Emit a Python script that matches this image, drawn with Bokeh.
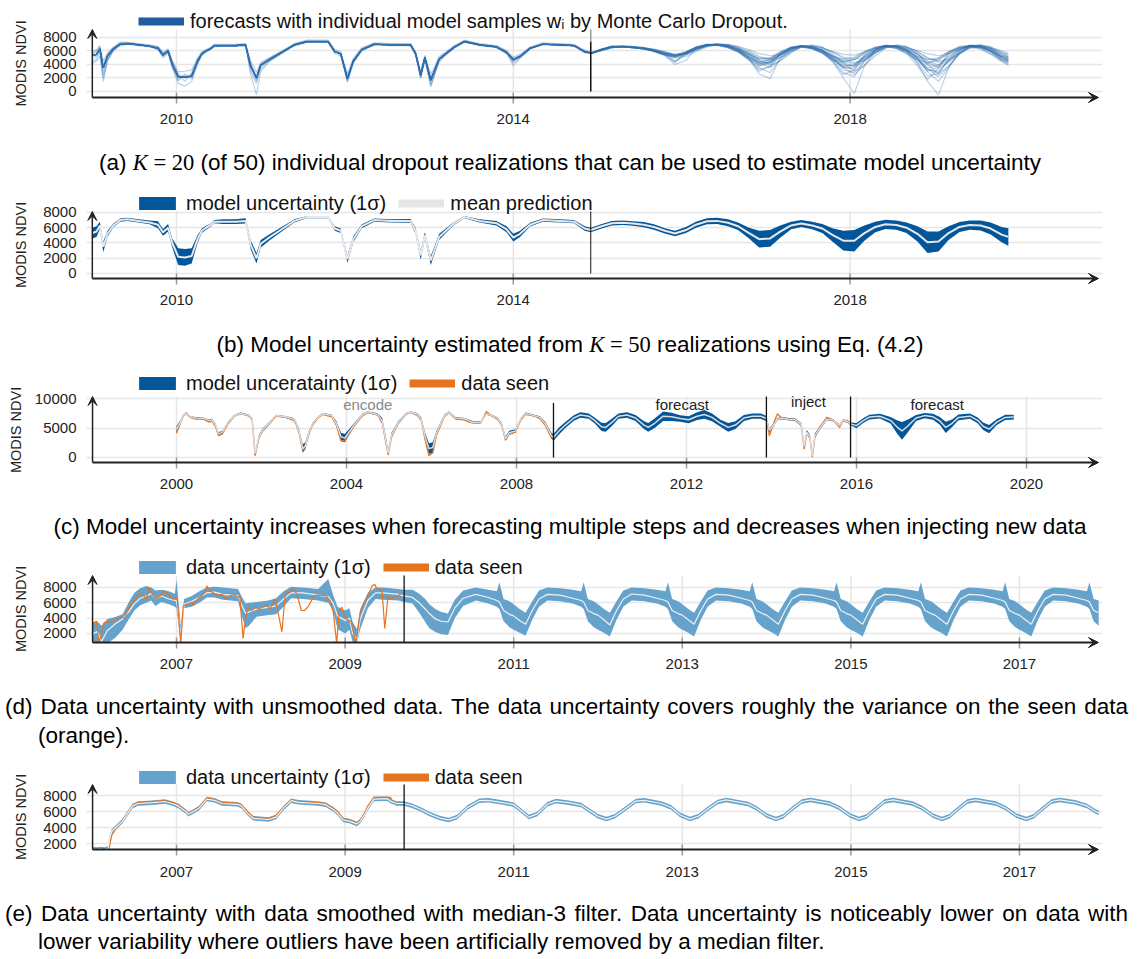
from bokeh.plotting import figure
from bokeh.models import Range1d, FixedTicker, Legend, LegendItem, Arrow, VeeHead, Div, Title
from bokeh.layouts import column
from bokeh.embed import file_html
from bokeh.resources import INLINE
from bokeh.core.properties import value

FONT = "Liberation Sans"
DARK = "#04569a"
LIGHT = "#65a3cd"
ORANGE = "#e8731f"

# ---------------- panel (a)/(b): encode period ----------------
t_b_enc = [2009.00, 2009.05, 2009.09, 2009.13, 2009.18, 2009.25, 2009.33, 2009.42, 2009.55, 2009.68,
           2009.78, 2009.84, 2009.90, 2009.95, 2010.02, 2010.10, 2010.18, 2010.25, 2010.30, 2010.35,
           2010.40, 2010.45, 2010.55, 2010.70, 2010.82, 2010.88, 2010.95, 2011.00, 2011.10, 2011.25,
           2011.40, 2011.55, 2011.80, 2011.88, 2011.95, 2012.03, 2012.10, 2012.20, 2012.35, 2012.55,
           2012.78, 2012.84, 2012.90, 2012.95, 2013.02, 2013.12, 2013.20, 2013.30, 2013.42, 2013.60,
           2013.80, 2013.92, 2014.00, 2014.08, 2014.20, 2014.35, 2014.55, 2014.72, 2014.85, 2014.92]
mean_b_enc = [5300, 5500, 6300, 3500, 5200, 6300, 7000, 7100, 6900, 6700,
              6400, 5400, 6000, 4000, 2200, 2100, 2300, 4500, 5600, 6000,
              6300, 6800, 6800, 6800, 6900, 3800, 2000, 3900, 4700, 5800,
              6900, 7400, 7400, 5900, 5600, 1900, 4500, 6200, 7000, 6900,
              6900, 5600, 2400, 5000, 1700, 4800, 5600, 6600, 7400, 6900,
              6600, 5800, 4700, 5200, 6400, 7000, 6900, 6800, 5900, 5700]
std_b_enc = [700, 700, 500, 700, 400, 250, 200, 200, 200, 250,
             450, 450, 500, 600, 1100, 1100, 1000, 500, 300, 250,
             200, 200, 300, 300, 350, 600, 700, 500, 400, 300,
             200, 150, 150, 300, 300, 500, 400, 250, 200, 200,
             250, 400, 600, 400, 600, 400, 300, 200, 150, 200,
             300, 400, 500, 400, 250, 200, 200, 200, 300, 300]

# forecast period (a)/(b)
t_fc = [2014.92, 2015.05, 2015.17, 2015.30, 2015.42, 2015.55, 2015.67, 2015.80, 2015.92, 2016.05,
        2016.17, 2016.30, 2016.42, 2016.55, 2016.67, 2016.80, 2016.92, 2017.05, 2017.17, 2017.30,
        2017.42, 2017.55, 2017.67, 2017.80, 2017.92, 2018.05, 2018.17, 2018.30, 2018.42, 2018.55,
        2018.67, 2018.80, 2018.92, 2019.05, 2019.17, 2019.30, 2019.42, 2019.55, 2019.67, 2019.80,
        2019.88]
mean_b_fc = [5650, 6200, 6600, 6650, 6550, 6400, 6100, 5600, 5250, 5700,
             6400, 6850, 6900, 6650, 6200, 5300, 4500, 4600, 5500, 6300,
             6550, 6300, 5900, 5000, 4300, 4300, 5300, 6100, 6450, 6350,
             6000, 5200, 4100, 4200, 5300, 6100, 6350, 6300, 5900, 5100,
             4800]
std_b_fc = [300, 300, 300, 300, 300, 350, 350, 350, 350, 400,
            400, 400, 400, 450, 500, 700, 1100, 1100, 800, 500,
            450, 500, 600, 900, 1300, 1400, 1000, 700, 600, 600,
            700, 1000, 1400, 1300, 900, 650, 600, 650, 800, 1000,
            1150]

# (a) individual dropout samples: encode-period variants
enc_v1 = [5000, 5200, 6000, 2000, 4800, 6100, 6900, 7000, 6800, 6600,
          6200, 5000, 5700, 3500, 1200, 800, 1500, 4000, 5400, 5900,
          6200, 6700, 6700, 6700, 6800, 3000, 1200, 3400, 4500, 5600,
          6800, 7300, 7300, 5600, 5300, 1400, 4200, 6000, 6900, 6800,
          6800, 5300, 1900, 4600, 900, 4400, 5400, 6400, 7300, 6800,
          6500, 5600, 4200, 5000, 6300, 6900, 6800, 6700, 5700, 5600]
enc_v2 = [5800, 6000, 6600, 4500, 5700, 6600, 7300, 7300, 7100, 6900,
          6700, 5800, 6300, 4600, 2900, 3000, 3200, 5000, 5900, 6200,
          6500, 7000, 7000, 7000, 7100, 4500, 2800, 4300, 5000, 6000,
          7100, 7600, 7600, 6200, 5900, 2600, 4900, 6500, 7200, 7100,
          7100, 5900, 3000, 5400, 2500, 5200, 5900, 6800, 7600, 7100,
          6800, 6100, 5100, 5500, 6600, 7200, 7100, 7000, 6100, 5900]
enc_v3 = [4500, 4800, 5800, 1500, 4500, 6200, 7100, 7200, 7000, 6800,
          6500, 5600, 6100, 3800, 1800, 2600, 2000, 4300, 5500, 6100,
          6400, 6900, 6900, 6900, 7000, 2500, -500, 3000, 4400, 5700,
          7000, 7500, 7500, 6000, 5500, 1500, 4300, 6300, 7100, 7000,
          7000, 5500, 2000, 4800, 700, 4600, 5500, 6500, 7500, 7000,
          6700, 5900, 4400, 5100, 6400, 7100, 7000, 6900, 5800, 5800]
enc_v4 = [6000, 6200, 6800, 3000, 5500, 6400, 7000, 7100, 6900, 6700,
          6300, 5200, 5800, 4300, 2500, 1500, 2800, 4800, 5700, 6000,
          6300, 6800, 6800, 6800, 6900, 4200, 1800, 4100, 4900, 5900,
          6900, 7400, 7400, 5800, 5700, 2300, 4700, 6200, 7000, 6900,
          6900, 5700, 2800, 5200, 1600, 5000, 5700, 6600, 7400, 6900,
          6600, 5800, 4900, 5300, 6400, 7000, 6900, 6800, 5900, 5600]
enc_v5 = [4200, 4500, 5200, 2500, 4600, 6000, 6800, 7000, 6900, 6700,
          6500, 5700, 5900, 3600, 1600, 2400, 1900, 4200, 5300, 5800,
          6200, 6600, 6700, 6700, 6800, 3400, 1500, 3700, 4600, 5700,
          6800, 7300, 7400, 6000, 5400, 1700, 4400, 6100, 6900, 6900,
          6800, 5500, 2200, 4900, 1200, 4700, 5600, 6500, 7300, 6900,
          6500, 5700, 3800, 4900, 6300, 7000, 6900, 6800, 5800, 5700]
enc_v6 = [5500, 5900, 6400, 4000, 5400, 6500, 7200, 7200, 7000, 6800,
          6600, 5500, 6200, 4400, 2600, 2000, 2500, 4600, 5700, 6100,
          6400, 6900, 6900, 6900, 7000, 3900, 2300, 4000, 4800, 5900,
          7000, 7500, 7500, 5900, 5700, 2100, 4600, 6200, 7100, 7000,
          6900, 5700, 2600, 5100, 2000, 4900, 5700, 6700, 7500, 7000,
          6700, 5900, 4600, 5300, 6500, 7100, 7000, 6800, 6000, 5700]

# (a) forecast part of the K = 20 samples
fc_s01 = [5700, 6300, 6700, 6700, 6600, 6400, 6000, 5400, 5000, 5600,
          6500, 7000, 7000, 6700, 6100, 5000, 3800, 4200, 5400, 6400,
          6700, 6500, 6000, 4800, 3500, 3600, 5200, 6300, 6700, 6600,
          6100, 4800, 3000, 3600, 5500, 6500, 6700, 6500, 5800, 4600,
          4200]
fc_s02 = [5600, 6100, 6500, 6600, 6600, 6500, 6200, 5800, 5500, 5600,
          6100, 6700, 7000, 6900, 6600, 6000, 5200, 4700, 5000, 5900,
          6600, 6800, 6500, 5800, 4900, 4300, 4600, 5700, 6500, 6800,
          6600, 5900, 5000, 4300, 4600, 5600, 6400, 6600, 6400, 5700,
          5200]
fc_s03 = [5700, 6200, 6600, 6600, 6500, 6300, 6000, 5500, 4300, 5900,
          6600, 7000, 6900, 6500, 5800, 4600, 3000, 3800, 5600, 6600,
          6800, 6400, 5800, 4400, 2500, 3200, 5400, 6500, 6800, 6400,
          5600, 3800, 1800, 3400, 5800, 6700, 6800, 6300, 5500, 4400,
          3900]
fc_s04 = [5600, 6200, 6600, 6700, 6600, 6400, 6200, 5700, 5400, 5500,
          6200, 6800, 7100, 7000, 6700, 6200, 5600, 5300, 5500, 6200,
          6700, 6700, 6400, 5900, 5500, 5400, 5800, 6400, 6800, 6800,
          6500, 6100, 5600, 5300, 5600, 6300, 6800, 6800, 6500, 6000,
          5700]
fc_s05 = [5700, 6300, 6700, 6700, 6500, 6300, 5900, 5300, 4000, 4600,
          6300, 6800, 6800, 6500, 5900, 4800, 3500, 2800, 4800, 6200,
          6800, 6600, 6000, 4500, 2800, 2200, 4500, 6200, 6900, 6700,
          6000, 4200, 1500, -500, 3500, 6000, 6900, 6700, 6000, 4800,
          4300]
fc_s06 = [5650, 6200, 6600, 6650, 6550, 6450, 6200, 5800, 5400, 5800,
          6500, 6900, 6900, 6700, 6300, 5600, 4900, 4900, 5700, 6500,
          6700, 6500, 6100, 5300, 4600, 4700, 5600, 6400, 6700, 6600,
          6200, 5500, 4700, 4800, 5600, 6400, 6700, 6600, 6200, 5400,
          5100]
fc_s07 = [5700, 6100, 6500, 6600, 6500, 6300, 6000, 5500, 5000, 5200,
          5900, 6600, 7000, 6900, 6500, 5700, 4600, 3900, 4500, 5700,
          6600, 6900, 6600, 5500, 4200, 3000, 3800, 5300, 6400, 6900,
          6700, 5600, 4000, 2600, 3800, 5500, 6600, 6900, 6600, 5600,
          5000]
fc_s08 = [5600, 6200, 6700, 6800, 6700, 6500, 6100, 5600, 5300, 5800,
          6500, 6900, 7000, 6800, 6300, 5200, 4100, 4400, 5600, 6500,
          6800, 6600, 6000, 4900, 3800, 3900, 5100, 6200, 6700, 6600,
          6100, 4900, 3300, 2700, 4800, 6200, 6800, 6700, 6100, 5000,
          4500]
fc_s09 = [5650, 6200, 6600, 6700, 6600, 6400, 6000, 5500, 5200, 5600,
          6300, 6800, 6900, 6600, 6000, 4900, 4000, 4500, 5600, 6400,
          6600, 6300, 5700, 4600, 3700, 4000, 5300, 6200, 6600, 6400,
          5800, 4700, 3500, 3800, 5200, 6200, 6600, 6500, 6000, 5000,
          4700]
fc_s10 = [5700, 6300, 6600, 6600, 6500, 6300, 6100, 5700, 5400, 5900,
          6600, 7000, 7000, 6800, 6400, 5500, 4700, 4600, 5300, 6200,
          6600, 6500, 6100, 5200, 4500, 4100, 4800, 5900, 6600, 6700,
          6400, 5600, 4500, 3900, 4500, 5700, 6500, 6700, 6400, 5700,
          5400]
fc_s11 = [5600, 6100, 6500, 6600, 6500, 6400, 6100, 5700, 4500, 5500,
          6200, 6800, 7000, 6800, 6200, 5000, 2600, 1900, 5000, 6300,
          6800, 6700, 6100, 4800, 3200, 2800, 4500, 6000, 6800, 6800,
          6200, 4900, 2900, 1500, 3500, 5800, 6800, 6900, 6400, 5200,
          4600]
fc_s12 = [5650, 6250, 6650, 6700, 6600, 6400, 6000, 5500, 5200, 5800,
          6500, 6900, 6900, 6600, 6000, 5100, 4300, 4700, 5700, 6500,
          6700, 6400, 5800, 5000, 4400, 4700, 5700, 6500, 6800, 6600,
          6000, 5100, 4200, 4600, 5700, 6500, 6800, 6600, 6000, 5100,
          4800]
fc_s13 = [5700, 6200, 6600, 6600, 6500, 6300, 5900, 5400, 5100, 5700,
          6500, 6900, 6900, 6500, 5900, 4800, 3800, 4300, 5500, 6400,
          6700, 6400, 5800, 4700, 3600, 3300, 4700, 6000, 6700, 6600,
          5900, 4600, 3200, 3000, 4500, 6000, 6700, 6600, 6000, 4800,
          4400]
fc_s14 = [5600, 6100, 6500, 6600, 6600, 6500, 6300, 5900, 5500, 5700,
          6300, 6800, 7000, 6900, 6500, 5800, 5000, 4900, 5400, 6100,
          6600, 6700, 6500, 5800, 5100, 4800, 5000, 5800, 6500, 6800,
          6600, 5900, 5000, 4500, 4800, 5700, 6500, 6800, 6600, 5900,
          5500]
fc_s15 = [5700, 6300, 6700, 6700, 6600, 6400, 6000, 5400, 4400, 5500,
          6400, 6900, 7000, 6700, 6000, 4700, 3300, 3600, 5300, 6400,
          6800, 6500, 5800, 4300, 2000, -300, 3800, 6200, 6800, 6600,
          5900, 4300, 2300, 2600, 4700, 6200, 6800, 6600, 5900, 4600,
          4000]
fc_s16 = [5650, 6200, 6600, 6600, 6500, 6300, 6000, 5600, 5300, 5700,
          6400, 6800, 6900, 6700, 6200, 5400, 4500, 4200, 5000, 6000,
          6600, 6600, 6200, 5300, 4300, 3700, 4600, 5800, 6600, 6700,
          6400, 5500, 4300, 3500, 4300, 5700, 6600, 6700, 6300, 5400,
          5000]
fc_s17 = [5700, 6200, 6700, 6700, 6600, 6400, 6100, 5600, 5200, 5600,
          6400, 6900, 7000, 6700, 6100, 5100, 4200, 4300, 5400, 6400,
          6800, 6600, 6100, 5100, 4000, 3800, 5000, 6200, 6800, 6700,
          6200, 5200, 3900, 3900, 5100, 6300, 6800, 6700, 6200, 5200,
          4800]
fc_s18 = [5600, 6100, 6500, 6600, 6500, 6300, 6000, 5500, 5200, 5500,
          6200, 6700, 6900, 6700, 6100, 5100, 4400, 4800, 5800, 6500,
          6600, 6300, 5600, 4700, 4300, 4900, 5900, 6500, 6700, 6400,
          5600, 4700, 4200, 4900, 5900, 6500, 6600, 6300, 5600, 4700,
          4500]
fc_s19 = [5650, 6200, 6600, 6650, 6550, 6400, 6100, 5700, 5300, 5700,
          6400, 6900, 7000, 6800, 6300, 5400, 4200, 3600, 4600, 5900,
          6700, 6700, 6200, 5000, 3600, 2500, 3900, 5700, 6700, 6800,
          6300, 5000, 3400, 2200, 3700, 5600, 6700, 6800, 6300, 5100,
          4600]
fc_s20 = [5700, 6300, 6600, 6600, 6500, 6400, 6200, 5800, 5400, 5800,
          6500, 6900, 6900, 6700, 6300, 5500, 4800, 5000, 5900, 6600,
          6700, 6400, 5900, 5200, 4800, 5100, 5900, 6600, 6800, 6500,
          6000, 5200, 4700, 5000, 5900, 6600, 6800, 6500, 6000, 5200,
          5000]
split_ab = [2014.92]

# ---------------- panel (c) ----------------
t_c_enc = [2000.00, 2000.09, 2000.16, 2000.23, 2000.32, 2000.45, 2000.63, 2000.77, 2000.83, 2000.92,
           2000.99, 2001.08, 2001.22, 2001.35, 2001.51, 2001.71, 2001.78, 2001.85, 2001.94, 2002.03,
           2002.16, 2002.34, 2002.57, 2002.75, 2002.81, 2002.88, 2002.97, 2003.03, 2003.11, 2003.20,
           2003.33, 2003.44, 2003.65, 2003.76, 2003.87, 2003.96, 2004.05, 2004.19, 2004.37, 2004.50,
           2004.73, 2004.84, 2004.91, 2004.98, 2005.06, 2005.22, 2005.40, 2005.51, 2005.67, 2005.76,
           2005.85, 2005.94, 2006.03, 2006.12, 2006.30, 2006.41, 2006.57, 2006.75, 2006.89, 2007.02,
           2007.16, 2007.29, 2007.43, 2007.56, 2007.65, 2007.74, 2007.83, 2007.97, 2008.10, 2008.21,
           2008.42, 2008.55, 2008.68, 2008.82, 2008.87]
m_c_enc = [4800, 6000, 7100, 7450, 6900, 6700, 6650, 6250, 6400, 5500,
           4000, 4300, 6000, 7000, 7500, 7100, 6500, 700, 3500, 4700,
           5700, 7100, 6900, 6500, 5900, 4500, 1500, 2000, 4200, 5700,
           6850, 7400, 7100, 5800, 3500, 3300, 4200, 5600, 7200, 7700,
           7300, 6200, 3500, 800, 3800, 6000, 7400, 7700, 7300, 6500,
           3500, 1500, 1700, 4200, 7100, 7700, 6700, 6600, 6200, 5900,
           6000, 7400, 7100, 6600, 5700, 3200, 4200, 4500, 6500, 7500,
           7100, 6800, 5700, 3700, 3400]
s_c_enc = [500, 300, 200, 150, 150, 150, 150, 200, 200, 250,
           300, 250, 200, 150, 150, 150, 200, 400, 350, 250,
           200, 150, 150, 200, 250, 400, 700, 600, 300, 200,
           150, 150, 200, 400, 700, 700, 500, 300, 200, 150,
           200, 500, 600, 500, 400, 250, 150, 150, 200, 300,
           700, 900, 900, 400, 200, 150, 150, 150, 200, 200,
           200, 150, 150, 200, 250, 400, 350, 300, 200, 150,
           150, 200, 300, 500, 600]
seen_c_enc = [4100, 5800, 7000, 7600, 6800, 6500, 6500, 6000, 6200, 5200,
              3700, 4000, 5800, 6900, 7500, 7000, 6300, 300, 3300, 4500,
              5500, 7000, 6800, 6300, 5700, 4200, 1200, 1800, 3900, 5500,
              6700, 7300, 6900, 5500, 2800, 2900, 4000, 5400, 7000, 7600,
              7200, 5900, 3200, 500, 3500, 5800, 7300, 7700, 7100, 6300,
              3000, 300, 800, 3800, 6900, 7600, 6500, 6400, 6000, 5800,
              5900, 7800, 7000, 6400, 5500, 3000, 4000, 4300, 6300, 7300,
              7000, 6600, 5400, 3300, 3000]
t_c_f1 = [2009.00, 2009.15, 2009.35, 2009.50, 2009.70, 2009.85, 2010.00, 2010.10, 2010.25, 2010.40,
          2010.60, 2010.80, 2011.00, 2011.10, 2011.25, 2011.45, 2011.65, 2011.85, 2012.05, 2012.25,
          2012.42, 2012.60, 2012.80, 2012.98, 2013.15, 2013.35, 2013.55, 2013.75, 2013.88]
m_c_f1 = [4500, 5500, 6700, 7200, 7000, 6200, 5200, 5100, 6000, 7000,
          7200, 6700, 5500, 5100, 5800, 7000, 6900, 6600, 6400, 7000,
          7300, 6800, 5800, 5100, 5500, 6700, 7000, 7000, 6600]
s_c_f1 = [600, 500, 450, 450, 450, 500, 700, 750, 600, 450,
          450, 500, 650, 750, 800, 800, 700, 550, 600, 650,
          750, 650, 600, 750, 650, 500, 450, 450, 450]
t_c_inj = [2013.95, 2014.05, 2014.14, 2014.25, 2014.40, 2014.55, 2014.70, 2014.77, 2014.83, 2014.90,
           2014.96, 2015.02, 2015.12, 2015.30, 2015.45, 2015.60, 2015.68, 2015.78, 2015.86]
m_c_inj = [4600, 5500, 6500, 6700, 6500, 6400, 5600, 1900, 4300, 3500,
           300, 3700, 4800, 6500, 6300, 5400, 6300, 6100, 5700]
s_c_inj = [300, 250, 200, 200, 200, 200, 250, 400, 350, 400,
           400, 400, 300, 200, 200, 250, 200, 200, 250]
t_c_seen2 = [2013.88, 2013.95, 2014.05, 2014.14, 2014.25, 2014.40, 2014.55, 2014.70, 2014.77, 2014.83,
             2014.90, 2014.96, 2015.02, 2015.12, 2015.30, 2015.45, 2015.60, 2015.68, 2015.78, 2015.86]
seen_c_inj = [6400, 3700, 5800, 7400, 6600, 6400, 6600, 5400, 1400, 4000,
              3600, 100, 3400, 5000, 6800, 6400, 5100, 6200, 6300, 5800]
t_c_f2 = [2016.00, 2016.15, 2016.30, 2016.55, 2016.80, 2016.95, 2017.07, 2017.20, 2017.40, 2017.60,
          2017.80, 2017.96, 2018.10, 2018.25, 2018.40, 2018.67, 2018.85, 2018.98, 2019.12, 2019.30,
          2019.50, 2019.70]
m_c_f2 = [5400, 6200, 6850, 7000, 6300, 5200, 4500, 5300, 6700, 7100,
          6900, 6200, 5100, 5800, 6800, 7000, 6300, 5300, 4800, 6000,
          6800, 6850]
s_c_f2 = [450, 400, 400, 400, 550, 1100, 1500, 1100, 500, 450,
          500, 650, 950, 650, 500, 450, 500, 650, 700, 500,
          450, 400]
split_c = [2008.87, 2013.88, 2015.86]
phase_labels_c = ["encode", "forecast", "inject", "forecast"]
phase_x_c = [2004.5, 2011.9, 2014.87, 2017.9]

# ---------------- panel (d) ----------------
t_d_enc = [2006.00, 2006.06, 2006.11, 2006.18, 2006.28, 2006.36, 2006.43, 2006.50, 2006.57, 2006.64,
           2006.70, 2006.75, 2006.82, 2006.91, 2006.98, 2007.00, 2007.05, 2007.09, 2007.18, 2007.27,
           2007.36, 2007.45, 2007.55, 2007.73, 2007.77, 2007.82, 2007.86, 2007.95, 2008.09, 2008.18,
           2008.27, 2008.36, 2008.50, 2008.68, 2008.80, 2008.86, 2008.91, 2009.00, 2009.05, 2009.09,
           2009.14, 2009.18, 2009.27, 2009.36, 2009.45, 2009.63, 2009.70]
m_d_enc = [1900, 2300, 950, 2400, 3300, 3900, 4800, 5900, 6600, 6900,
           7200, 6500, 6900, 6500, 6300, 6300, 1900, 5800, 6200, 6700,
           7300, 7400, 7100, 6900, 5800, 4600, 4800, 5200, 5400, 5600,
           6500, 7300, 7300, 7000, 6800, 5900, 4300, 3700, 4000, 2000,
           1200, 3900, 6300, 7300, 7300, 7100, 6900]
lo_d_enc = [700, 800, 700, 700, 1500, 2500, 3800, 5000, 5700, 6000,
            6300, 5600, 6100, 5800, 5500, 5300, 900, 5300, 5500, 6000,
            6700, 6700, 6400, 6200, 4500, 2700, 3000, 4200, 4400, 4500,
            5500, 6600, 6500, 6300, 6000, 4900, 2600, 2000, 2500, 900,
            900, 2600, 5300, 6500, 6400, 6300, 6100]
hi_d_enc = [3300, 3600, 3000, 3900, 4200, 4500, 6000, 7300, 7900, 8200,
            8000, 7600, 7700, 7500, 7200, 9000, 3000, 6500, 6900, 7500,
            8000, 8100, 8000, 7800, 6900, 5900, 6000, 6100, 6300, 6600,
            7500, 8100, 8000, 7800, 9100, 7000, 5500, 5000, 5300, 3500,
            2600, 5200, 7300, 8000, 8000, 7800, 7700]
t_d_fc = [2009.80, 2009.88, 2009.95,
          2010.00, 2010.07, 2010.14, 2010.22, 2010.30, 2010.40, 2010.55, 2010.70, 2010.80, 2010.83, 2010.88, 2010.95,
          2011.00, 2011.07, 2011.14, 2011.22, 2011.30, 2011.40, 2011.55, 2011.70, 2011.80, 2011.83, 2011.88, 2011.95,
          2012.00, 2012.07, 2012.14, 2012.22, 2012.30, 2012.40, 2012.55, 2012.70, 2012.80, 2012.83, 2012.88, 2012.95,
          2013.00, 2013.07, 2013.14, 2013.22, 2013.30, 2013.40, 2013.55, 2013.70, 2013.80, 2013.83, 2013.88, 2013.95,
          2014.00, 2014.07, 2014.14, 2014.22, 2014.30, 2014.40, 2014.55, 2014.70, 2014.80, 2014.83, 2014.88, 2014.95,
          2015.00, 2015.07, 2015.14, 2015.22, 2015.30, 2015.40, 2015.55, 2015.70, 2015.80, 2015.83, 2015.88, 2015.95,
          2016.00, 2016.07, 2016.14, 2016.22, 2016.30, 2016.40, 2016.55, 2016.70, 2016.80, 2016.83, 2016.88, 2016.95,
          2017.00, 2017.07, 2017.14, 2017.22, 2017.30, 2017.40, 2017.55, 2017.70, 2017.80, 2017.83, 2017.88, 2017.94]
m_d_fc = [6700, 6000, 5200,
          4600, 3900, 3600, 3500, 5300, 6600, 7100, 6700, 6300, 6100, 5000, 4500,
          4300, 3700, 3200, 5000, 6500, 7100, 7000, 6600, 6300, 6100, 5000, 4600,
          4400, 3800, 3100, 5000, 6500, 7150, 7000, 6600, 6300, 6100, 5000, 4600,
          4400, 3800, 3200, 5000, 6500, 7100, 7000, 6600, 6300, 6100, 5000, 4600,
          4400, 3800, 3200, 5000, 6500, 7100, 7000, 6600, 6300, 6100, 5000, 4600,
          4400, 3800, 3200, 5000, 6500, 7100, 7000, 6600, 6300, 6100, 5000, 4600,
          4400, 3800, 3200, 5000, 6500, 7100, 7000, 6600, 6300, 6100, 5000, 4600,
          4400, 3800, 3200, 5000, 6500, 7100, 7000, 6600, 6300, 6100, 5000, 4700]
lo_d_fc = [5900, 4700, 3500,
           2700, 2200, 1900, 1800, 4000, 5600, 6300, 5900, 5500, 5200, 3600, 2800,
           2500, 2100, 1700, 3800, 5500, 6300, 6200, 5900, 5500, 5200, 3600, 2800,
           2500, 2100, 1600, 3800, 5500, 6300, 6200, 5900, 5500, 5200, 3600, 2800,
           2500, 2100, 1600, 3800, 5500, 6300, 6200, 5900, 5500, 5200, 3600, 2800,
           2500, 2100, 1600, 3800, 5500, 6300, 6200, 5900, 5500, 5200, 3600, 2800,
           2500, 2100, 1600, 3800, 5500, 6300, 6200, 5900, 5500, 5200, 3600, 2800,
           2500, 2100, 1600, 3800, 5500, 6300, 6200, 5900, 5500, 5200, 3600, 2800,
           2500, 2100, 1600, 3800, 5500, 6300, 6200, 5900, 5500, 5200, 3600, 3000]
hi_d_fc = [7700, 7200, 6500,
           5800, 5200, 4800, 4600, 6400, 7600, 8000, 7700, 7500, 8700, 6500, 6200,
           5800, 5200, 4700, 6200, 7600, 8000, 7900, 7700, 7500, 8700, 6500, 6200,
           5800, 5200, 4700, 6200, 7600, 8000, 7900, 7700, 7500, 8700, 6500, 6200,
           5800, 5200, 4700, 6200, 7600, 8000, 7900, 7700, 7500, 8700, 6500, 6200,
           5800, 5200, 4700, 6200, 7600, 8000, 7900, 7700, 7500, 8700, 6500, 6200,
           5800, 5200, 4700, 6200, 7600, 8000, 7900, 7700, 7500, 8700, 6500, 6200,
           5800, 5200, 4700, 6200, 7600, 8000, 7900, 7700, 7500, 8700, 6500, 6200,
           5800, 5200, 4700, 6200, 7600, 8000, 7900, 7700, 7500, 8700, 6500, 6300]
t_d_seen = [2006.00, 2006.05, 2006.08, 2006.14, 2006.21, 2006.27, 2006.34, 2006.39, 2006.41, 2006.46,
            2006.50, 2006.54, 2006.57, 2006.61, 2006.64, 2006.67, 2006.70, 2006.75, 2006.81, 2006.85,
            2006.91, 2006.95, 2006.99, 2007.01, 2007.05, 2007.08, 2007.14, 2007.18, 2007.20, 2007.25,
            2007.30, 2007.34, 2007.36, 2007.39, 2007.43, 2007.48, 2007.54, 2007.59, 2007.64, 2007.68,
            2007.73, 2007.75, 2007.79, 2007.82, 2007.85, 2007.89, 2007.93, 2007.98, 2008.02, 2008.07,
            2008.11, 2008.14, 2008.17, 2008.20, 2008.25, 2008.29, 2008.34, 2008.38, 2008.43, 2008.48,
            2008.52, 2008.57, 2008.63, 2008.70, 2008.77, 2008.82, 2008.86, 2008.90, 2008.93, 2008.96,
            2008.99, 2009.02, 2009.07, 2009.13, 2009.18, 2009.22, 2009.27, 2009.32, 2009.35, 2009.38,
            2009.41, 2009.44, 2009.47, 2009.51, 2009.54, 2009.59, 2009.63, 2009.66]
v_d_seen = [3290, 3590, 700, 3420, 3510, 3720, 4150, 4020, 4790, 5860,
            6290, 6930, 7140, 6930, 6500, 8000, 7360, 6500, 6930, 7570,
            7140, 6500, 6720, 6290, 700, 5650, 5860, 6070, 5650, 6500,
            6930, 7360, 8210, 7570, 7360, 6930, 7140, 6500, 6930, 7020,
            6720, 6930, 1370, 4150, 5430, 5000, 5430, 5220, 5430, 5650,
            5220, 5860, 6500, 5000, 2220, 7140, 7360, 7790, 7140, 5000,
            5000, 5650, 6930, 7020, 6930, 6290, 4790, 700, 5000, 5430,
            4360, 3930, 3510, 700, 4790, 5860, 6930, 8210, 8430, 7790,
            7790, 7360, 2650, 6930, 6500, 6720, 6930, 7140]
split_de = [2009.70]

# ---------------- panel (e) ----------------
t_e_enc = [2006.00, 2006.05, 2006.10, 2006.15, 2006.19, 2006.20, 2006.23, 2006.29, 2006.36, 2006.41,
           2006.48, 2006.54, 2006.72, 2006.86, 2006.95, 2007.02, 2007.11, 2007.14, 2007.20, 2007.27,
           2007.36, 2007.45, 2007.54, 2007.72, 2007.77, 2007.84, 2007.91, 2008.09, 2008.18, 2008.27,
           2008.36, 2008.45, 2008.68, 2008.77, 2008.86, 2008.91, 2008.98, 2009.05, 2009.14, 2009.18,
           2009.23, 2009.27, 2009.34, 2009.50, 2009.54, 2009.61]
m_e_enc = [1300, 1250, 1300, 1250, 1400, 2500, 3500, 4100, 4800, 5600,
           6700, 7000, 7100, 7250, 7000, 6700, 6000, 5650, 6000, 6450,
           7550, 7400, 7000, 6900, 6700, 5800, 5150, 5000, 5300, 6450,
           7350, 7150, 7000, 6850, 6250, 5800, 4950, 4800, 4450, 4800,
           5600, 6450, 7550, 7600, 7300, 7000]
t_e_fc = [2009.70, 2009.80, 2009.90, 2010.00, 2010.13, 2010.23, 2010.33, 2010.45, 2010.59, 2010.70,
          2010.85, 2011.00, 2011.10, 2011.18, 2011.28, 2011.40, 2011.50, 2011.65, 2011.80, 2011.90,
          2012.00, 2012.10, 2012.20, 2012.32, 2012.45, 2012.55, 2012.75, 2012.87, 2012.97, 2013.09,
          2013.19, 2013.30, 2013.42, 2013.52, 2013.78, 2013.88, 2014.00, 2014.11, 2014.20, 2014.30,
          2014.42, 2014.52, 2014.75, 2014.87, 2014.99, 2015.10, 2015.19, 2015.29, 2015.40, 2015.50,
          2015.73, 2015.85, 2015.97, 2016.08, 2016.17, 2016.27, 2016.38, 2016.48, 2016.72, 2016.84,
          2016.96, 2017.08, 2017.17, 2017.27, 2017.38, 2017.48, 2017.66, 2017.80, 2017.89, 2017.94]
m_e_fc = [7000, 6700, 6250, 5700, 5150, 4950, 5300, 6500, 7350, 7400,
          7150, 6850, 6000, 5300, 5700, 6900, 7300, 7100, 6800, 6100,
          5400, 5050, 5400, 6300, 7300, 7400, 7000, 6500, 5600, 5050,
          5400, 6300, 7200, 7450, 6950, 6400, 5500, 5050, 5400, 6300,
          7250, 7450, 7000, 6400, 5500, 5050, 5400, 6300, 7250, 7450,
          7000, 6400, 5500, 5050, 5400, 6300, 7250, 7450, 7000, 6400,
          5500, 5050, 5400, 6300, 7250, 7450, 7150, 6700, 6100, 5800]
band_e_halfwidth = 280
t_e_seen = [2006.19, 2006.23, 2006.29, 2006.36, 2006.41, 2006.48, 2006.54, 2006.72, 2006.86, 2006.95,
            2007.02, 2007.11, 2007.14, 2007.20, 2007.27, 2007.36, 2007.45, 2007.54, 2007.72, 2007.77,
            2007.84, 2007.91, 2008.09, 2008.18, 2008.27, 2008.36, 2008.45, 2008.68, 2008.77, 2008.86,
            2008.91, 2008.98, 2009.05, 2009.14, 2009.18, 2009.23, 2009.27, 2009.34, 2009.50, 2009.54,
            2009.56, 2009.61, 2009.66]
v_e_seen = [900, 3000, 4000, 4900, 5700, 6800, 7100, 7250, 7350, 7150,
            6900, 6100, 5750, 6100, 6600, 7650, 7500, 7150, 7050, 6850,
            6000, 5300, 5150, 5500, 6550, 7400, 7200, 7100, 7000, 6450,
            6000, 5100, 4950, 4600, 4950, 5800, 6700, 7750, 7750, 7750,
            7100, 7050, 7000]

# ---------------- tick labels ----------------
xticks_ab = [2010, 2014, 2018]
xticks_c = [2000, 2004, 2008, 2012, 2016, 2020]
xticks_de = [2007, 2009, 2011, 2013, 2015, 2017]
yticks_ab = [0, 2000, 4000, 6000, 8000]
yticks_c = [0, 5000, 10000]
yticks_de = [2000, 4000, 6000, 8000]

FRAME_W = 1016
GRID = "#e6e6e6"


def trim(x, y):
    n = min(len(x), len(y))
    return list(x[:n]), list(y[:n])


def make_fig(xr, yr, fh, top, xt, yt, x_standoff, ax_y, tip_y, t_off, t_stand):
    p = figure(x_range=Range1d(*xr), y_range=Range1d(*yr),
               frame_width=FRAME_W, frame_height=fh,
               min_border_left=86, min_border_right=20, min_border_top=top, min_border_bottom=32,
               output_backend="svg", toolbar_location=None, title=None)
    p.outline_line_color = None
    p.background_fill_color = "white"
    p.border_fill_color = "white"
    p.xaxis.ticker = FixedTicker(ticks=xt)
    p.yaxis.ticker = FixedTicker(ticks=yt)
    p.xgrid.grid_line_color = None
    p.ygrid.ticker = FixedTicker(ticks=yt)
    p.ygrid.grid_line_color = GRID
    p.ygrid.grid_line_width = 1.5
    for ax in (p.xaxis[0], p.yaxis[0]):
        ax.axis_line_color = None
        ax.major_tick_line_color = None
        ax.minor_tick_line_color = None
        ax.major_tick_in = 0
        ax.major_tick_out = 0
        ax.major_label_text_font = FONT
        ax.major_label_text_font_size = "15px"
        ax.major_label_text_color = "#222222"
    p.xaxis[0].major_label_standoff = x_standoff
    p.yaxis[0].major_label_standoff = 10
    p.add_layout(Title(text="MODIS NDVI", align="left", vertical_align="top", offset=t_off, standoff=t_stand,
                       text_font=FONT, text_font_size="14.5px", text_font_style="normal",
                       text_color="#222222"), "left")
    # vertical grid lines from the x axis up to the arrow tip
    p.segment(x0=xt, y0=[ax_y] * len(xt), x1=xt, y1=[tip_y] * len(xt), line_color=GRID, line_width=1.5)
    return p


def finish(p, xr, yr, fh, xt, ax_x, ax_y, tip_x, tip_y):
    # hide everything that falls below the x axis line (between axis and frame edge)
    p.quad(left=[xr[0]], right=[xr[1]], bottom=[yr[0]], top=[ax_y], fill_color="white", line_color=None)
    upp = (yr[1] - yr[0]) / fh
    p.segment(x0=xt, y0=[ax_y - 6 * upp] * len(xt), x1=xt, y1=[ax_y + 5 * upp] * len(xt),
              line_color="#9a9a9a", line_width=1.5)
    p.add_layout(Arrow(end=VeeHead(size=9, fill_color="#222222", line_color="#222222"),
                       x_start=ax_x, y_start=ax_y, x_end=ax_x, y_end=tip_y,
                       line_color="#222222", line_width=1.5))
    p.add_layout(Arrow(end=VeeHead(size=10, fill_color="#222222", line_color="#222222"),
                       x_start=ax_x, y_start=ax_y, x_end=tip_x, y_end=ax_y,
                       line_color="#222222", line_width=2))


def add_legend(p, items, x, y):
    leg = Legend(items=[LegendItem(label=lab, renderers=[r]) for lab, r in items],
                 orientation="horizontal", location=(x, y),
                 background_fill_alpha=0, border_line_color=None, padding=0, margin=0,
                 spacing=12, label_standoff=6, glyph_width=46, glyph_height=16,
                 label_text_font=FONT, label_text_font_size="20px", label_text_color="#111111")
    p.add_layout(leg)


XR_AB = (2008.931, 2020.998)
XR_C = (1997.882, 2021.788)
XR_DE = (2005.932, 2017.985)

# ---------------- figure (a) ----------------
ya = (-1926, 12296)
pa = make_fig(XR_AB, ya, 96, 8, xticks_ab, yticks_ab, 9, -889, 9185, -2, 20)
enc_variants = [enc_v1, enc_v2, enc_v3, enc_v4, enc_v5, enc_v6]
fc_samples = [fc_s01, fc_s02, fc_s03, fc_s04, fc_s05, fc_s06, fc_s07, fc_s08, fc_s09, fc_s10,
              fc_s11, fc_s12, fc_s13, fc_s14, fc_s15, fc_s16, fc_s17, fc_s18, fc_s19, fc_s20]
xs_a, ys_a = [], []
for k, fc in enumerate(fc_samples):
    enc = enc_variants[k] if k < len(enc_variants) else mean_b_enc
    x1, y1 = trim(t_b_enc, enc)
    x2, y2 = trim(t_fc, fc)
    xs_a.append(x1 + x2)
    ys_a.append(y1 + y2)
pa.multi_line(xs_a, ys_a, line_color="#2f6fad", line_alpha=0.32, line_width=1.2)
pa.segment(x0=split_ab, y0=[0], x1=split_ab, y1=[7400], line_color="#111111", line_width=1.5)
pa.segment(x0=split_ab, y0=[7400], x1=split_ab, y1=[9185], line_color="#999999", line_width=1.5)
leg_a = pa.line(t_fc[:1], mean_b_fc[:1], line_color="#1f5d9c", line_width=8)
add_legend(pa, [("forecasts with individual model samples w\u1d62 by Monte Carlo Dropout.", leg_a)], 52, 71.5)
finish(pa, XR_AB, ya, 96, xticks_ab, 2009.0, -889, 2020.95, 9185)

# ---------------- figure (b) ----------------
yb = (-1574, 10885)
pb = make_fig(XR_AB, yb, 95, 4, xticks_ab, yticks_ab, 9, -656, 8131, -2.5, 20)
t_b = t_b_enc + t_fc[1:]
m_b = mean_b_enc + mean_b_fc[1:]
s_b = std_b_enc + std_b_fc[1:]
rb = pb.varea(x=t_b, y1=[m - s for m, s in zip(m_b, s_b)], y2=[m + s for m, s in zip(m_b, s_b)],
              fill_color=DARK, fill_alpha=1)
pb.line(t_b, m_b, line_color="#e8e8e8", line_width=2)
pb.segment(x0=split_ab, y0=[0], x1=split_ab, y1=[8131], line_color="#111111", line_width=1)
leg_b = pb.line(t_fc[:1], mean_b_fc[:1], line_color="#e6e6e6", line_width=8)
add_legend(pb, [("model uncertainty (1\u03c3)", rb), ("mean prediction", leg_b)], 48, 70.5)
finish(pb, XR_AB, yb, 95, xticks_ab, 2009.0, -656, 2020.95, 8131)

# ---------------- figure (c) ----------------
yc = (-2034, 14746)
pc = make_fig(XR_C, yc, 99, 4, xticks_c, yticks_c, 9, -847, 10339, -3.5, 12)
t_c = t_c_enc + t_c_f1 + t_c_inj + t_c_f2
m_c = m_c_enc + m_c_f1 + m_c_inj + m_c_f2
s_c = s_c_enc + s_c_f1 + s_c_inj + s_c_f2
rc = pc.varea(x=t_c, y1=[m - s for m, s in zip(m_c, s_c)], y2=[m + s for m, s in zip(m_c, s_c)],
              fill_color=DARK, fill_alpha=1)
xo, yo = trim(t_c_enc, seen_c_enc)
pc.line(xo, yo, line_color=ORANGE, line_width=1.3)
xo, yo = trim(t_c_seen2, seen_c_inj)
pc.line(xo, yo, line_color=ORANGE, line_width=1.3)
pc.line(t_c, m_c, line_color="#dcdcdc", line_width=1.5)
pc.segment(x0=split_c, y0=[0, 0, 0], x1=split_c, y1=[9250, 10339, 10339], line_color="#111111", line_width=1.3)
pc.text(x=phase_x_c[:1], y=[8980], text=phase_labels_c[:1], text_align="center", text_baseline="middle",
        text_font=value(FONT), text_font_size="15px", text_color="#8a8a8a")
pc.text(x=phase_x_c[1:], y=[8980, 9450, 8980], text=phase_labels_c[1:], text_align="center",
        text_baseline="middle", text_font=value(FONT), text_font_size="15px", text_color="#222222")
leg_c = pc.line(t_c_enc[:1], seen_c_enc[:1], line_color=ORANGE, line_width=8)
add_legend(pc, [("model unceratainty (1\u03c3)", rc), ("data seen", leg_c)], 48, 74.5)
finish(pc, XR_C, yc, 99, xticks_c, 1998.024, -847, 2021.694, 10339)

# ---------------- figure (d) ----------------
yd = (-87, 12304)
pd_ = make_fig(XR_DE, yd, 95, 4, xticks_de, yticks_de, 9, 826, 9565, -2.5, 20)
t_d = t_d_enc + t_d_fc
rd = pd_.varea(x=t_d, y1=lo_d_enc + lo_d_fc, y2=hi_d_enc + hi_d_fc, fill_color=LIGHT, fill_alpha=1)
pd_.line(t_d, m_d_enc + m_d_fc, line_color="#f0f0f0", line_width=1.2)
xo, yo = trim(t_d_seen, v_d_seen)
pd_.line(xo, yo, line_color=ORANGE, line_width=1.2)
pd_.segment(x0=split_de, y0=[826], x1=split_de, y1=[9565], line_color="#111111", line_width=1.3)
leg_d = pd_.line(t_d_seen[:1], v_d_seen[:1], line_color=ORANGE, line_width=8)
add_legend(pd_, [("data uncertainty (1\u03c3)", rd), ("data seen", leg_d)], 48, 70.5)
finish(pd_, XR_DE, yd, 95, xticks_de, 2006.004, 826, 2017.937, 9565)

# ---------------- figure (e) ----------------
ye = (375, 11875)
pe = make_fig(XR_DE, ye, 92, 4, xticks_de, yticks_de, 10, 1250, 9375, -3.5, 20)
t_e = t_e_enc + t_e_fc
m_e = m_e_enc + m_e_fc
re_ = pe.varea(x=t_e, y1=[m - band_e_halfwidth for m in m_e], y2=[m + band_e_halfwidth for m in m_e],
               fill_color=LIGHT, fill_alpha=1)
xo, yo = trim(t_e_seen, v_e_seen)
pe.line(xo, yo, line_color=ORANGE, line_width=1.3)
pe.line(t_e, m_e, line_color="#f2f2f2", line_width=1.2)
pe.segment(x0=split_de, y0=[1250], x1=split_de, y1=[9375], line_color="#111111", line_width=1.3)
leg_e = pe.line(t_e_seen[:1], v_e_seen[:1], line_color=ORANGE, line_width=8)
add_legend(pe, [("data uncertainty (1\u03c3)", re_), ("data seen", leg_e)], 48, 67.5)
finish(pe, XR_DE, ye, 92, xticks_de, 2006.004, 1250, 2017.937, 9375)

# ---------------- captions ----------------
MATH = "font-family:'Liberation Serif',serif;"
BASE = "font-family:'Liberation Sans',sans-serif;font-size:22.5px;color:#000;"


def center_cap(html, mt, h):
    return Div(text=f'<div style="{BASE}margin-top:{mt}px;line-height:28px;text-align:center;'
                    f'white-space:nowrap;width:1140px;">{html}</div>',
               width=1140, height=h, margin=(0, 0, 0, 0))


def two_line_cap(l1, l2, mt, lh, h):
    return Div(text=f'<div style="{BASE}margin-top:{mt}px;margin-left:5px;width:1123px;line-height:{lh}px;">'
                    f'<div style="text-align:justify;text-align-last:justify;">{l1}</div>'
                    f'<div style="padding-left:33px;">{l2}</div></div>',
               width=1140, height=h, margin=(0, 0, 0, 0))


cap_a = (f'(a) <span style="{MATH}"><i>K</i> = 20</span> (of 50) individual dropout realizations '
         f'that can be used to estimate model uncertainty')
cap_b = (f'(b) Model uncertainty estimated from <span style="{MATH}"><i>K</i> = 50</span> '
         f'realizations using Eq. (4.2)')
cap_c = '(c) Model uncertainty increases when forecasting multiple steps and decreases when injecting new data'
cap_d1 = '(d) Data uncertainty with unsmoothed data. The data uncertainty covers roughly the variance on the seen data'
cap_d2 = '(orange).'
cap_e1 = ('(e) Data uncertainty with data smoothed with median-3 filter. Data uncertainty is noticeably '
          'lower on data with')
cap_e2 = 'lower variability where outliers have been artificially removed by a median filter.'

da = center_cap(cap_a, 13, 50)
db = center_cap(cap_b, 14, 49)
dc = center_cap(cap_c, 12, 49)
dd = two_line_cap(cap_d1, cap_d2, 11, 29, 79)
de = two_line_cap(cap_e1, cap_e2, 12, 28, 66)

layout = column(pa, da, pb, db, pc, dc, pd_, dd, pe, de, spacing=0)
open("out.html", "w").write(file_html(layout, INLINE))
